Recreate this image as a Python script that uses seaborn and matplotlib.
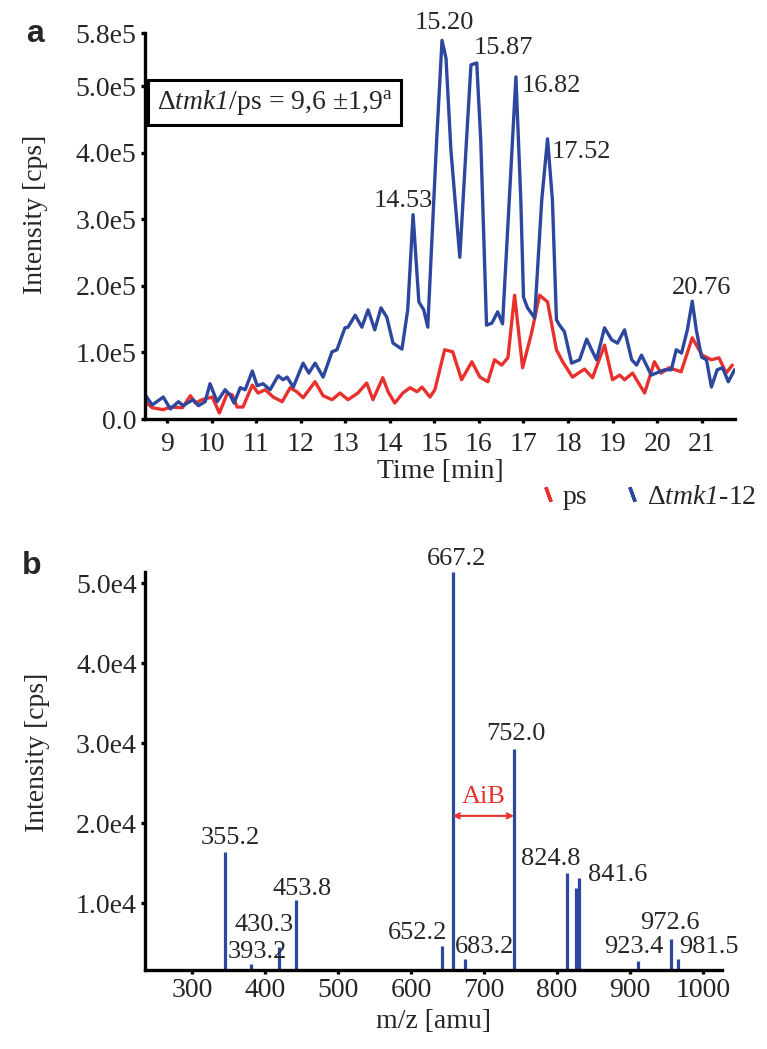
import numpy as np
import matplotlib
matplotlib.use("Agg")
import matplotlib.pyplot as plt
import seaborn as sns
from matplotlib.lines import Line2D
from matplotlib.ticker import FuncFormatter

# ---------------- data: panel a (chromatogram) ----------------
time_blue = [8.51, 8.66, 8.91, 9.07, 9.25, 9.36, 9.45, 9.58, 9.70, 9.85,
             9.96, 10.12, 10.30, 10.41, 10.50, 10.64, 10.75, 10.91, 11.02, 11.15,
             11.31, 11.49, 11.60, 11.69, 11.83, 12.05, 12.18, 12.32, 12.50, 12.70,
             12.81, 12.99, 13.06, 13.22, 13.37, 13.51, 13.66, 13.80, 13.93, 14.07,
             14.27, 14.40, 14.52, 14.65, 14.76, 14.85, 15.05, 15.17, 15.26, 15.37,
             15.57, 15.73, 15.82, 15.95, 16.04, 16.17, 16.29, 16.42, 16.53, 16.83,
             16.94, 17.00, 17.09, 17.25, 17.41, 17.54, 17.65, 17.74, 17.81, 17.92,
             18.08, 18.26, 18.42, 18.53, 18.64, 18.82, 18.98, 19.11, 19.27, 19.43,
             19.54, 19.65, 19.87, 20.17, 20.32, 20.43, 20.55, 20.68, 20.79, 20.88,
             21.00, 21.11, 21.22, 21.35, 21.47, 21.60, 21.74]
int_blue = [0.36, 0.21, 0.33, 0.15, 0.26, 0.20, 0.24, 0.29, 0.20, 0.26,
            0.53, 0.26, 0.44, 0.36, 0.24, 0.47, 0.44, 0.72, 0.50, 0.53,
            0.44, 0.65, 0.59, 0.63, 0.48, 0.84, 0.69, 0.84, 0.63, 1.01,
            1.04, 1.37, 1.38, 1.56, 1.38, 1.64, 1.34, 1.67, 1.53, 1.14,
            1.05, 1.64, 3.07, 1.76, 1.64, 1.38, 4.19, 5.69, 5.42, 4.04,
            2.43, 4.30, 5.32, 5.35, 4.19, 1.41, 1.44, 1.61, 1.43, 5.14,
            3.29, 1.83, 1.67, 1.52, 3.29, 4.21, 3.29, 1.49, 1.41, 1.31,
            0.84, 0.89, 1.20, 1.04, 0.89, 1.37, 1.19, 1.14, 1.34, 0.89,
            0.81, 0.96, 0.66, 0.74, 0.74, 1.04, 0.99, 1.34, 1.77, 1.34,
            0.93, 0.89, 0.48, 0.74, 0.77, 0.56, 0.74]  # x 1e5 cps

time_red = [8.51, 8.66, 8.91, 9.07, 9.34, 9.52, 9.63, 9.78, 10.01, 10.17,
            10.35, 10.46, 10.57, 10.70, 10.91, 11.04, 11.20, 11.38, 11.58, 11.76,
            11.91, 12.05, 12.32, 12.50, 12.70, 12.88, 13.06, 13.28, 13.48, 13.62,
            13.84, 13.96, 14.11, 14.29, 14.45, 14.61, 14.72, 14.90, 15.01, 15.23,
            15.41, 15.61, 15.84, 16.02, 16.20, 16.35, 16.51, 16.65, 16.80, 16.98,
            17.18, 17.36, 17.54, 17.74, 17.88, 18.10, 18.37, 18.55, 18.82, 19.00,
            19.16, 19.27, 19.45, 19.72, 19.94, 20.09, 20.27, 20.54, 20.79, 21.01,
            21.22, 21.39, 21.55, 21.69]
int_red = [0.26, 0.17, 0.14, 0.18, 0.17, 0.35, 0.24, 0.29, 0.33, 0.09,
           0.39, 0.36, 0.18, 0.18, 0.51, 0.39, 0.44, 0.33, 0.26, 0.47,
           0.41, 0.32, 0.56, 0.35, 0.29, 0.39, 0.29, 0.39, 0.54, 0.29,
           0.62, 0.41, 0.24, 0.39, 0.47, 0.41, 0.48, 0.33, 0.44, 1.04,
           1.01, 0.59, 0.86, 0.63, 0.56, 0.89, 0.81, 0.92, 1.86, 0.77,
           1.29, 1.86, 1.76, 1.04, 0.86, 0.63, 0.75, 0.62, 1.11, 0.59,
           0.66, 0.59, 0.69, 0.39, 0.86, 0.69, 0.77, 0.71, 1.22, 0.96,
           0.89, 0.92, 0.69, 0.81]  # x 1e5 cps

peak_labels = ["14.53", "15.20", "15.87", "16.82", "17.52", "20.76"]
top_xticks = list(range(9, 22))
top_yticks = [0, 1, 2, 3, 4, 5, 5.8]  # x 1e5

# ---------------- data: panel b (MS spectrum) ----------------
mz = [345.2, 380.8, 419.2, 443.1, 643.1, 656.9, 673.6, 741.1,
      813.9, 826.4, 830.6, 911.5, 956.4, 965.4]
ms_int = [1.64, 0.24, 0.45, 1.04, 0.46, 5.14, 0.30, 2.93,
          1.38, 1.19, 1.31, 0.28, 0.55, 0.30]  # x 1e4 cps
mz_labels = ["355.2", "393.2", "430.3", "453.8", "652.2", "667.2", "683.2", "752.0",
             "824.8", "", "841.6", "923.4", "972.6", "981.5"]
bot_xticks = list(range(300, 1001, 100))
bot_yticks = [1, 2, 3, 4, 5]  # x 1e4

# ---------------- style ----------------
sns.set_style("ticks")
plt.rcParams["font.family"] = ["Liberation Serif", "DejaVu Serif"]
plt.rcParams["mathtext.fontset"] = "custom"
plt.rcParams["mathtext.rm"] = "Liberation Serif"
plt.rcParams["mathtext.it"] = "Liberation Serif:italic"
plt.rcParams["mathtext.sf"] = "Liberation Serif:italic"

BLUE = "#2c479d"
RED = "#e8302c"
FS = 20

W, H = 767, 1049
fig = plt.figure(figsize=(W / 100, H / 100), dpi=100)
ax1 = fig.add_axes([145 / W, 1 - 419 / H, 590 / W, 386 / H])
ax2 = fig.add_axes([145 / W, 1 - 970 / H, 577 / W, 398 / H])

# ---------------- panel a ----------------
tb = np.array(time_blue)
ib = np.array(int_blue) * 1e5
tr = np.array(time_red)
ir = np.array(int_red) * 1e5
sns.lineplot(x=tr, y=ir, ax=ax1, color=RED, lw=2.4, sort=False, estimator=None)
sns.lineplot(x=tb, y=ib, ax=ax1, color=BLUE, lw=2.4, sort=False, estimator=None)

ax1.set_xlim(8.5, 21.75)
ax1.set_ylim(0, 5.8e5)
ax1.set_xticks(top_xticks)
ax1.set_yticks([v * 1e5 for v in top_yticks])
ax1.yaxis.set_major_formatter(FuncFormatter(lambda v, p: "0.0" if v == 0 else f"{v / 1e5:.1f}e5"))
ax1.set_xlabel("Time [min]", fontsize=FS, labelpad=2)
ax1.set_ylabel("Intensity [cps]", fontsize=FS)
ax1.yaxis.set_label_coords(-0.165, 0.53)

peak_offsets = [(-7.2, 10.1), (1.4, 12.2), (19.4, 10.8), (25.9, -6.5), (24.5, -9.4), (6.5, 9.4)]
for lab, off in zip(peak_labels, peak_offsets):
    target = float(lab)
    mask = np.abs(tb - target) < 0.2
    idx = np.where(mask)[0][np.argmax(ib[mask])]
    ax1.annotate(lab, xy=(tb[idx], ib[idx]), xytext=off, textcoords="offset points",
                 ha="center", va="center", fontsize=19, annotation_clip=False)

ax1.text(0.02, 0.82, r"$\Delta\mathsf{tmk1}$/ps = 9,6 ±1,9$^{\mathrm{a}}$",
         transform=ax1.transAxes, ha="left", va="center", fontsize=FS,
         bbox=dict(boxstyle="square,pad=0.3", fc="white", ec="black", lw=2.2))

# ---------------- panel b ----------------
mzv = np.array(mz)
msv = np.array(ms_int) * 1e4
ax2.vlines(mzv, 0, msv, color=BLUE, lw=2.3)
ax2.set_xlim(235.6, 1026)
ax2.set_ylim(1625, 51400)
ax2.set_xticks(bot_xticks)
ax2.set_yticks([v * 1e4 for v in bot_yticks])
ax2.yaxis.set_major_formatter(FuncFormatter(lambda v, p: f"{v / 1e4:.1f}e4"))
ax2.set_xlabel("m/z [amu]", fontsize=FS, labelpad=4)
ax2.set_ylabel("Intensity [cps]", fontsize=FS)
ax2.yaxis.set_label_coords(-0.165, 0.548)

ms_offsets = [(3.6, 10.1), (4.3, 8.6), (-10.8, 15.8), (4.3, 7.9), (-18, 9.4), (2.9, 9.4),
              (14.4, 8.6), (1.4, 10.8), (-11.5, 10.1), (0, 0), (27.4, 2.2), (-3.6, 10.1),
              (-0.7, 11.5), (22.3, 8.6)]
for x, y, lab, off in zip(mzv, msv, mz_labels, ms_offsets):
    if lab:
        ax2.annotate(lab, xy=(x, y), xytext=off, textcoords="offset points",
                     ha="center", va="center", fontsize=19, annotation_clip=False)

y_arrow = 2.09e4
ax2.annotate("", xy=(mzv[5], y_arrow), xytext=(mzv[7], y_arrow),
             arrowprops=dict(arrowstyle="<->", color=RED, lw=1.5,
                             shrinkA=0, shrinkB=0, mutation_scale=9))
ax2.text((mzv[5] + mzv[7]) / 2, 2.33e4, "AiB", color=RED, fontsize=19,
         ha="center", va="center")

# ---------------- shared axis styling ----------------
for ax in (ax1, ax2):
    sns.despine(ax=ax)
    for s in ("left", "bottom"):
        ax.spines[s].set_linewidth(2.4)
        ax.spines[s].set_color("black")
    ax.tick_params(direction="out", length=3, width=2.4, labelsize=FS, pad=3, color="black")
ax1.tick_params(axis="x", pad=6)

# ---------------- legend ----------------
handles = [Line2D([0], [0], ls="none", marker=(2, 2, 20), ms=11, mec=RED, mew=2.4),
           Line2D([0], [0], ls="none", marker=(2, 2, 20), ms=11, mec=BLUE, mew=2.4)]
fig.legend(handles, ["ps", r"$\Delta\mathsf{tmk1}$-12"], loc="center",
           bbox_to_anchor=(0.845, 1 - 497 / H), ncol=2, frameon=False, fontsize=FS,
           handlelength=0.6, handletextpad=0.25, columnspacing=1.3, numpoints=1)

# ---------------- panel letters ----------------
fig.text(35 / W, 1 - 34 / H, "a", fontsize=23, fontweight="bold",
         family="Liberation Sans", ha="center", va="center")
fig.text(32 / W, 1 - 566 / H, "b", fontsize=23, fontweight="bold",
         family="Liberation Sans", ha="center", va="center")

fig.savefig("out.png", dpi=100)
